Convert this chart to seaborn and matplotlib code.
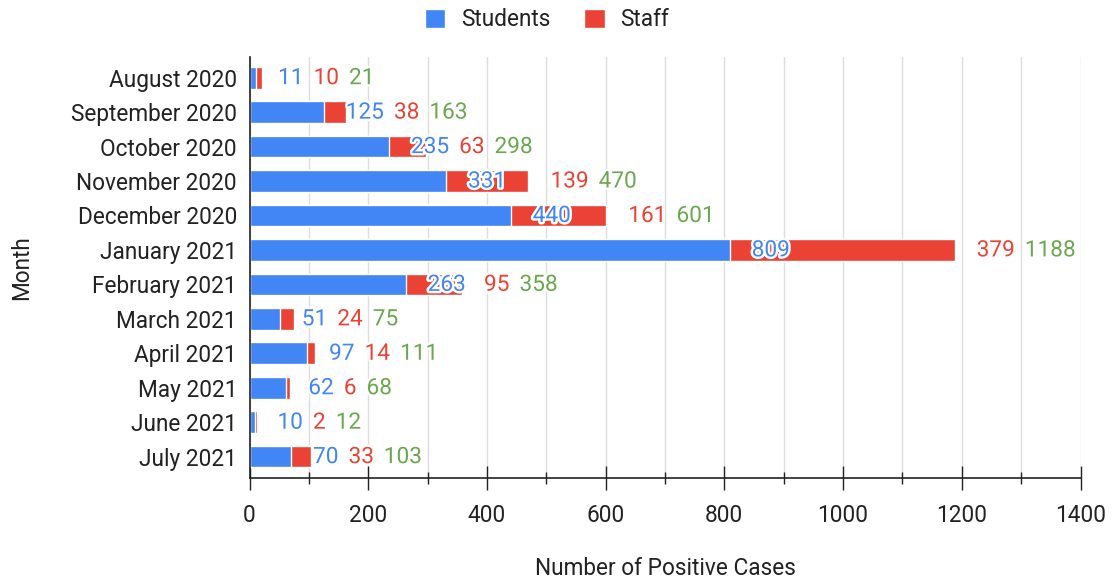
import matplotlib.pyplot as plt
import matplotlib.patheffects as pe
from matplotlib.patches import Patch
from matplotlib.ticker import MultipleLocator
import seaborn as sns
import pandas as pd

# data
months = ['August 2020', 'September 2020', 'October 2020', 'November 2020',
          'December 2020', 'January 2021', 'February 2021', 'March 2021',
          'April 2021', 'May 2021', 'June 2021', 'July 2021']
students = [11, 125, 235, 331, 440, 809, 263, 51, 97, 62, 10, 70]
staff = [10, 38, 63, 139, 161, 379, 95, 24, 14, 6, 2, 33]
totals = [21, 163, 298, 470, 601, 1188, 358, 75, 111, 68, 12, 103]

BLUE = '#4285F4'
RED = '#EA4335'
GREEN = '#6AA84F'
TXT = '#222222'

df = pd.DataFrame({'Month': months, 'Students': students, 'Staff': staff, 'Total': totals})

sns.set_theme(style='white')
plt.rcParams['font.family'] = ['Roboto', 'DejaVu Sans']
FS = 16.3

fig = plt.figure(figsize=(11.12, 5.83), dpi=100)
ax = fig.add_axes([249.5 / 1112, 105 / 583, 831 / 1112, 421 / 583])

# stacked bars: total (red) underneath, students (blue) on top
sns.barplot(data=df, y='Month', x='Total', color=RED, width=0.63, saturation=1, ax=ax, orient='h')
sns.barplot(data=df, y='Month', x='Students', color=BLUE, width=0.63, saturation=1, ax=ax, orient='h')

ax.set_xlim(0, 1400)
ax.set_ylim(11.62, -0.6)
ax.xaxis.set_major_locator(MultipleLocator(200))
ax.xaxis.set_minor_locator(MultipleLocator(100))
ax.grid(axis='x', which='both', color='#dddddd', lw=1.0)
ax.set_axisbelow(True)

ax.tick_params(axis='x', which='major', direction='inout', length=17, width=1,
               color='#222222', labelsize=FS, labelcolor=TXT, pad=10, bottom=True)
ax.tick_params(axis='x', which='minor', direction='inout', length=8.5, width=1,
               color='#222222', bottom=True)
ax.tick_params(axis='y', length=0, labelsize=FS, labelcolor=TXT, pad=9)

for side in ['top', 'right']:
    ax.spines[side].set_visible(False)
for side in ['left', 'bottom']:
    ax.spines[side].set_color('#222222')
    ax.spines[side].set_linewidth(1.2)

ax.set_xlabel('Number of Positive Cases', fontsize=FS, color=TXT)
ax.set_ylabel('Month', fontsize=FS, color=TXT)
ax.xaxis.set_label_coords(0.5, -0.216)
ax.xaxis.label.set_va('center')
ax.yaxis.set_label_coords(-0.2738, 0.5)
ax.yaxis.label.set_va('center')

handles = [Patch(facecolor=BLUE, label='Students'), Patch(facecolor=RED, label='Staff')]
fig.legend(handles=handles, loc='center', bbox_to_anchor=(0.492, 1 - 20 / 583), ncol=2,
           frameon=False, fontsize=FS, handlelength=0.9, handleheight=0.9,
           handletextpad=0.7, columnspacing=1.5, labelcolor=TXT)

# value labels, laid out left to right after each bar like the original
fig.canvas.draw()
renderer = fig.canvas.get_renderer()
halo = [pe.withStroke(linewidth=3.5, foreground='white')]


def put(x_px, y, s, c):
    x = ax.transData.inverted().transform((x_px, 0))[0]
    t = ax.text(x, y, s, color=c, fontsize=FS, ha='left', va='center', path_effects=halo)
    return t.get_window_extent(renderer).x1


for i in range(len(months)):
    s_end = ax.transData.transform((students[i], 0))[0]
    t_end = ax.transData.transform((totals[i], 0))[0]
    r = put(s_end + 22, i, str(students[i]), BLUE)
    r = put(max(t_end + 22, r + 10), i, str(staff[i]), RED)
    put(r + 10, i, str(totals[i]), GREEN)

fig.savefig('out.png', dpi=100, facecolor='white')
